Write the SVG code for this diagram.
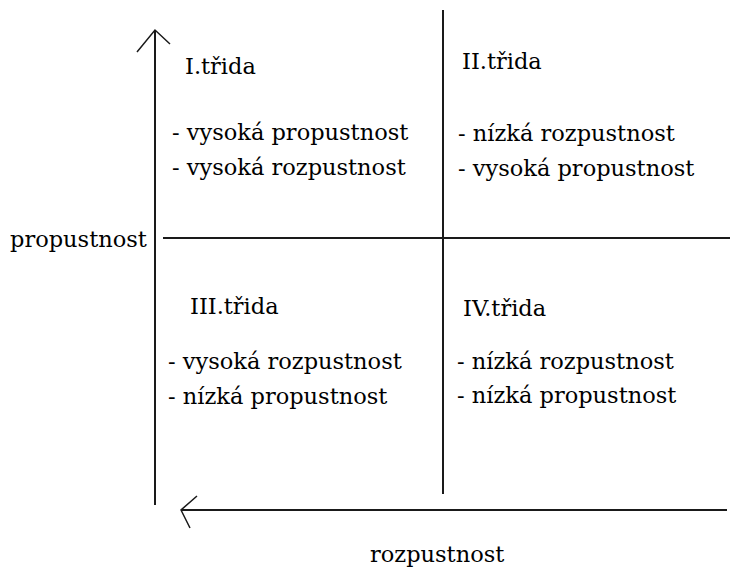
<svg xmlns="http://www.w3.org/2000/svg" width="730" height="574" viewBox="0 0 730 574">
<style>
.t{font-family:"DejaVu Serif","Liberation Serif",serif;font-size:22.5px;fill:#000}
.ln{stroke:#1a1a1a;stroke-width:2;fill:none}
.ah{stroke:#1a1a1a;stroke-width:1.5;fill:none}
</style>
<rect width="730" height="574" fill="#fff"/>
<g id="connectors">
<line class="ln" x1="155" y1="30" x2="155" y2="505"/>
<path class="ah" d="M137,52 L155,30 L170,44"/>
<line class="ln" x1="443" y1="10" x2="443" y2="494"/>
<line class="ln" x1="163" y1="238" x2="730" y2="238"/>
<line class="ln" x1="181" y1="510" x2="727" y2="510"/>
<path class="ah" d="M197,496 L181,510 L190,528"/>
</g>
<g id="q1">
<text class="t" x="185" y="74">I.třida</text>
<text class="t" x="172" y="140">- vysoká propustnost</text>
<text class="t" x="172" y="175">- vysoká rozpustnost</text>
</g>
<g id="q2">
<text class="t" x="462" y="69">II.třida</text>
<text class="t" x="458" y="141">- nízká rozpustnost</text>
<text class="t" x="458" y="176">- vysoká propustnost</text>
</g>
<g id="q3">
<text class="t" x="190" y="314">III.třida</text>
<text class="t" x="168" y="369">- vysoká rozpustnost</text>
<text class="t" x="168" y="404">- nízká propustnost</text>
</g>
<g id="q4">
<text class="t" x="463" y="316">IV.třida</text>
<text class="t" x="457" y="369">- nízká rozpustnost</text>
<text class="t" x="457" y="403">- nízká propustnost</text>
</g>
<g id="label-y">
<text class="t" x="10" y="247">propustnost</text>
</g>
<g id="label-x">
<text class="t" x="370" y="562">rozpustnost</text>
</g>
</svg>
